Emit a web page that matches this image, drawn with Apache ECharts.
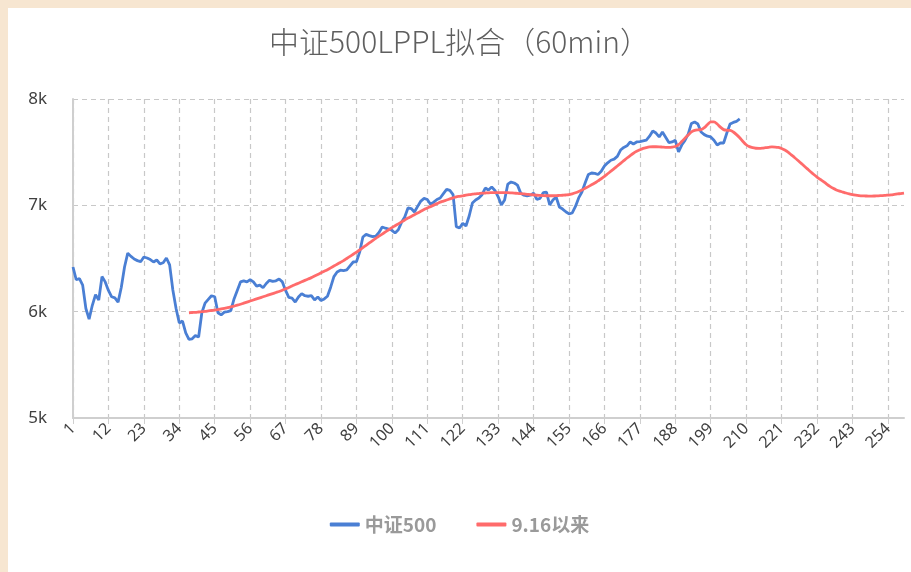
<!DOCTYPE html>
<html>
<head>
<meta charset="utf-8">
<script src="https://cdn.jsdelivr.net/npm/echarts@6/dist/echarts.min.js"></script>
<style>
html,body{margin:0;padding:0;background:#f7e6d1;width:911px;height:572px;overflow:hidden;}
#c{position:absolute;left:8px;top:8px;width:903px;height:564px;background:#fff;}
</style>
</head>
<body>
<div id="c"></div>
<script>
const titleText = '中证500LPPL拟合（60min）';
const seriesNames = ['中证500', '9.16以来'];
const categoryCount = 259;
const categories = [];
for (let i = 1; i <= categoryCount; i++) categories.push(String(i));

// 中证500 (index 1..208)
const csi500 = [
6420,6300,6310,6250,6030,5930,6060,6160,6110,6330,
6280,6200,6140,6130,6090,6230,6420,6550,6520,6495,
6480,6470,6514,6505,6490,6467,6486,6450,6460,6505,
6440,6204,6030,5893,5912,5800,5740,5745,5775,5762,
5990,6080,6115,6150,6140,5990,5970,5995,6000,6010,
6120,6200,6280,6290,6280,6300,6280,6240,6250,6225,
6265,6295,6285,6290,6307,6280,6200,6135,6128,6090,
6138,6170,6150,6145,6150,6110,6138,6105,6120,6145,
6230,6330,6373,6390,6385,6392,6430,6467,6470,6560,
6702,6727,6715,6705,6710,6745,6796,6785,6777,6765,
6740,6770,6840,6890,6975,6970,6937,6990,7040,7065,
7055,7010,7030,7055,7069,7110,7150,7140,7100,6800,
6787,6830,6806,6900,7022,7050,7069,7100,7163,7144,
7172,7140,7080,7003,7050,7200,7219,7210,7190,7115,
7095,7088,7095,7115,7055,7065,7120,7125,7003,7050,
7078,6984,6965,6940,6920,6928,6990,7070,7125,7210,
7290,7304,7300,7290,7320,7370,7400,7424,7434,7460,
7520,7545,7560,7596,7577,7596,7600,7607,7614,7650,
7699,7680,7643,7690,7640,7590,7596,7612,7502,7567,
7610,7670,7770,7784,7765,7690,7665,7650,7643,7612,
7567,7586,7586,7680,7765,7780,7790,7812
];

// 9.16以来 fit (starts at index 37, runs to 259)
const fitStart = 37;
const fitValues = [
5990,5992,5994,5997,6000,6003,6007,6011,6015,6020,
6026,6032,6038,6045,6053,6061,6070,6080,6090,6100,
6110,6120,6130,6140,6150,6160,6170,6180,6190,6202,
6215,6228,6242,6255,6268,6281,6294,6307,6320,6335,
6350,6365,6380,6395,6412,6429,6446,6463,6480,6500,
6520,6540,6560,6580,6602,6624,6646,6668,6690,6710,
6730,6750,6770,6790,6808,6826,6844,6862,6880,6896,
6912,6928,6944,6960,6974,6988,7002,7016,7030,7040,
7050,7060,7070,7080,7085,7090,7095,7100,7105,7108,
7111,7114,7116,7118,7119,7120,7120,7120,7120,7119,
7117,7115,7112,7110,7107,7104,7101,7098,7095,7093,
7091,7090,7090,7090,7091,7093,7095,7097,7100,7108,
7118,7130,7144,7160,7176,7193,7210,7230,7250,7273,
7297,7321,7345,7370,7395,7420,7445,7468,7490,7508,
7522,7535,7543,7549,7551,7551,7550,7548,7546,7545,
7547,7553,7570,7600,7632,7662,7690,7705,7710,7712,
7730,7760,7784,7785,7765,7735,7712,7706,7705,7690,
7665,7635,7600,7570,7552,7542,7537,7536,7538,7542,
7546,7549,7548,7544,7535,7520,7500,7475,7450,7424,
7397,7370,7343,7316,7290,7266,7244,7224,7200,7178,
7160,7145,7134,7125,7116,7108,7101,7096,7092,7089,
7088,7087,7087,7088,7089,7091,7093,7096,7099,7103,
7107,7111,7115
];

const yMin = 5000, yMax = 8000, yStep = 1000;

const fitSeries = [];
for (let i = 1; i < fitStart; i++) fitSeries.push(null);
fitValues.forEach(v => fitSeries.push(v));

const chart = echarts.init(document.getElementById('c'), null, {renderer: 'canvas'});
chart.setOption({
  backgroundColor: '#ffffff',
  animation: false,
  title: {
    text: titleText,
    left: 'center',
    top: 14,
    textStyle: {fontSize: 30, fontWeight: 300, color: '#5f5f5f', fontFamily: 'Noto Sans CJK SC'}
  },
  legend: {
    data: seriesNames,
    bottom: 33,
    left: 'center',
    itemGap: 40,
    itemWidth: 30,
    itemHeight: 4,
    icon: 'roundRect',
    textStyle: {fontSize: 19, fontWeight: 'bold', color: '#9a9a9a', fontFamily: 'Noto Sans CJK SC'}
  },
  grid: {left: 65, right: 7, top: 91, bottom: 154, containLabel: false},
  xAxis: {
    type: 'category',
    data: categories,
    boundaryGap: false,
    axisLine: {lineStyle: {color: '#cfcfcf', width: 2}},
    axisTick: {show: true, interval: 10, length: 6, lineStyle: {color: '#cfcfcf'}},
    axisLabel: {interval: 10, rotate: 45, fontSize: 16, color: '#404040', margin: 8, fontFamily: 'Noto Sans'},
    splitLine: {show: true, interval: 10, lineStyle: {type: [5, 4], color: '#c8c8c8', width: 1.2}}
  },
  yAxis: {
    type: 'value',
    min: yMin, max: yMax, interval: yStep,
    axisLine: {show: true, lineStyle: {color: '#cfcfcf', width: 2}},
    axisTick: {show: false},
    axisLabel: {fontSize: 17, color: '#404040', margin: 26, formatter: v => (v / 1000) + 'k', fontFamily: 'Noto Sans'},
    splitLine: {show: true, lineStyle: {type: [5, 4], color: '#c8c8c8', width: 1.2}}
  },
  series: [
    {
      name: seriesNames[0], type: 'line', data: csi500, showSymbol: false, symbol: 'none',
      lineStyle: {color: '#4a7fd4', width: 2.8}, itemStyle: {color: '#4a7fd4'}
    },
    {
      name: seriesNames[1], type: 'line', data: fitSeries, showSymbol: false, symbol: 'none', smooth: 0.3,
      lineStyle: {color: '#ff6b6b', width: 2.8}, itemStyle: {color: '#ff6b6b'}
    }
  ]
});
</script>
</body>
</html>
